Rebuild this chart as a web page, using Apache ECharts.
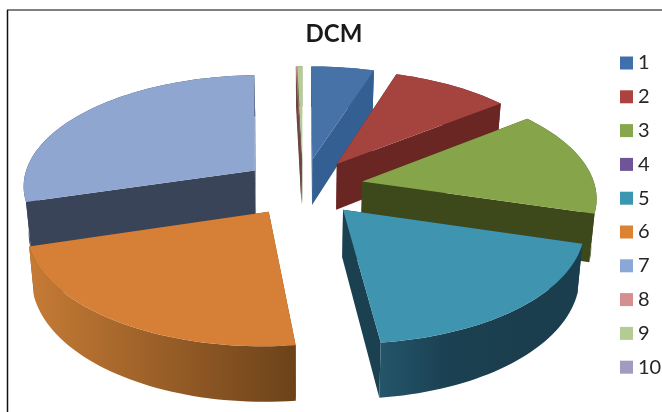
<!DOCTYPE html>
<html>
<head>
<meta charset="utf-8">
<style>html,body{margin:0;padding:0;background:#fff}#chart{width:662px;height:412px}</style>
<script src="https://cdn.jsdelivr.net/npm/echarts@6/dist/echarts.min.js"></script>
</head>
<body>
<div id="chart"></div>
<script>
// Share of each DCM category
const categories = ['1', '2', '3', '4', '5', '6', '7', '8', '9', '10'];
const shares = [5.0, 9.4, 15.1, 0, 18.55, 22.2, 29.1, 0.05, 0.4, 0];

const topColors = ['#4672A8', '#A5433F', '#86A449', '#6D5592', '#3F94B0', '#D67F37', '#8FA6D0', '#D08F8E', '#B6CC92', '#A398BC'];
const legendColors = ['#3F70AC', '#AB4341', '#88A64C', '#6F5598', '#3B96B2', '#DB8233', '#8BA7D6', '#D58F8F', '#B4CB94', '#A39ABF'];
const cutColors = ['#345F93', '#6A2623', '#3E491B', '#3A2C50', '#1B4050', '#7A4A1E', '#3A4459', '#6E4544', '#5E6B45', '#554E66'];
// Outer wall shading, left to right
const wallColors = [
  ['#345F93', '#345F93'], ['#6A2623', '#6A2623'], ['#3E491B', '#3E491B'], ['#3A2C50', '#3A2C50'],
  ['#24556A', '#1B4152', '#1A3E4D', '#1A3E4D'], ['#C67B35', '#6C421A'], ['#3A4459', '#3A4459'],
  ['#6E4544', '#6E4544'], ['#5E6B45', '#5E6B45'], ['#554E66', '#554E66']
];
// Back slices are painted first so nearer ones overlap them
const paintOrder = [0, 9, 8, 7, 6, 1, 2, 3, 4, 5];

// Perspective of the tilted pie
const view = { cx: 303, cy: 187, rx: 233, ry: 111, persp: 0.125, drop: 47, shrink: 0.982, burst: 0.26 };

function project(x, y, bottom) {
  const s = 1 / (1 + view.persp * y);
  const lift = bottom ? view.drop * s : 0;
  const k = bottom ? view.shrink : 1;
  return [view.cx + view.rx * x * s * k, view.cy - view.ry * y * s + lift];
}

const total = shares.reduce((a, b) => a + b, 0);
function startAngle(index) {
  let before = 0;
  for (let i = 0; i < index; i++) before += shares[i];
  return before / total * 2 * Math.PI;
}

function sliceShapes(index, value) {
  if (!value) return [];
  const a0 = startAngle(index);
  const a1 = a0 + value / total * 2 * Math.PI;
  const mid = (a0 + a1) / 2;
  const ox = view.burst * Math.sin(mid);
  const oy = view.burst * Math.cos(mid);
  const rim = [];
  const steps = Math.max(2, Math.ceil((a1 - a0) / 0.03));
  for (let i = 0; i <= steps; i++) {
    const a = a0 + (a1 - a0) * i / steps;
    rim.push([ox + Math.sin(a), oy + Math.cos(a)]);
  }
  const apexTop = project(ox, oy, false);
  const apexBottom = project(ox, oy, true);
  const rimTop = rim.map(p => project(p[0], p[1], false));
  const rimBottom = rim.map(p => project(p[0], p[1], true));
  const last = rim.length - 1;
  const poly = (points, fill) => ({ type: 'polygon', shape: { points }, style: { fill, stroke: null, lineWidth: 0 } });
  const stops = wallColors[index];
  const wallFill = new echarts.graphic.LinearGradient(0, 0, 1, 0,
    stops.map((color, i) => ({ offset: i / (stops.length - 1), color })));
  return [
    poly([apexTop, rimTop[0], rimBottom[0], apexBottom], cutColors[index]),
    poly([apexTop, rimTop[last], rimBottom[last], apexBottom], cutColors[index]),
    poly(rimTop.concat(rimBottom.slice().reverse()), wallFill),
    poly([apexTop].concat(rimTop), topColors[index])
  ];
}

const series = categories.map((name, index) => ({
  type: 'custom',
  name,
  coordinateSystem: 'none',
  silent: true,
  animation: false,
  z: 2 + paintOrder.indexOf(index),
  itemStyle: { color: legendColors[index] },
  data: [[shares[index]]],
  renderItem: (params, api) => ({ type: 'group', children: sliceShapes(index, api.value(0)) })
}));

const chart = echarts.init(document.getElementById('chart'), null, { renderer: 'canvas' });
chart.setOption({
  backgroundColor: '#ffffff',
  animation: false,
  title: {
    text: 'DCM',
    left: 329,
    top: 17,
    textAlign: 'center',
    textStyle: { fontFamily: 'Lato', fontSize: 24, fontWeight: 'bold', color: '#1a1a1a' }
  },
  legend: {
    orient: 'vertical',
    left: 620,
    top: 53,
    padding: 0,
    data: categories,
    selectedMode: false,
    icon: 'rect',
    itemWidth: 13,
    itemHeight: 13,
    itemGap: 13.8,
    textStyle: { fontFamily: 'Lato', fontSize: 20, color: '#262626', height: 20, lineHeight: 20 }
  },
  graphic: [
    { type: 'line', silent: true, shape: { x1: 7, y1: 10, x2: 662, y2: 10 }, style: { stroke: '#808080', lineWidth: 2 } },
    { type: 'line', silent: true, shape: { x1: 7.5, y1: 10, x2: 7.5, y2: 412 }, style: { stroke: '#111111', lineWidth: 1.5 } }
  ],
  series
});
</script>
</body>
</html>
